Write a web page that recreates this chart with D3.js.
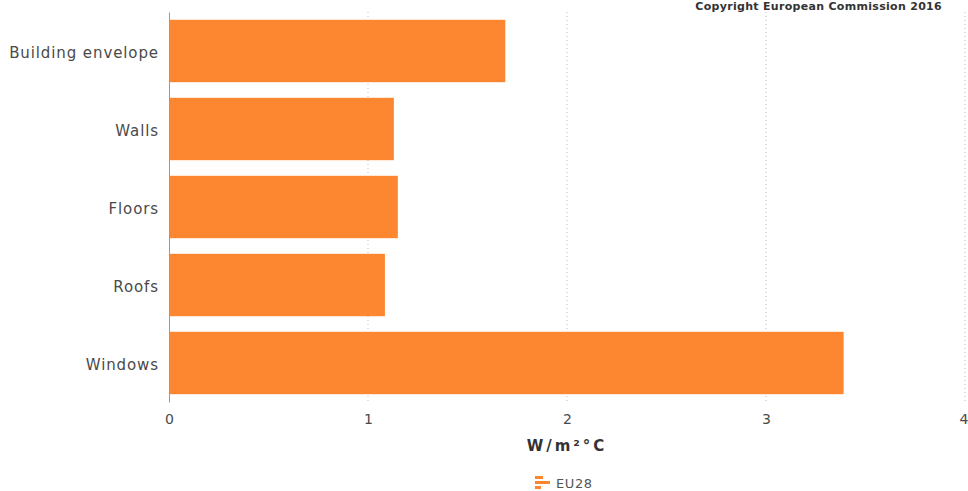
<!DOCTYPE html>
<html>
<head>
<meta charset="utf-8">
<script src="https://cdn.jsdelivr.net/npm/d3@7"></script>
<style>
  body { margin: 0; background: #fff; }
  svg { display: block; font-family: "DejaVu Sans", Verdana, sans-serif; }
</style>
</head>
<body>
<svg id="chart" width="968" height="491"></svg>
<script>
// Average U-values of building elements, EU28
const categories = ["Building envelope", "Walls", "Floors", "Roofs", "Windows"];
const values = [1.69, 1.13, 1.15, 1.085, 3.39];
const xTicks = [0, 1, 2, 3, 4];
const seriesName = "EU28";
const axisTitle = "W/m²°C";
const copyright = "Copyright European Commission 2016";

const barColor = "#fd8731";
const svg = d3.select("#chart");
const W = 968, H = 491;
const m = { left: 169, right: 3, top: 12, bottom: 89 };

const x = d3.scaleLinear().domain([0, 4]).range([m.left, W - m.right]);
const y = d3.scaleBand().domain(categories).range([m.top, H - m.bottom])
  .paddingInner(0.2).paddingOuter(0.1);

// dotted vertical gridlines
svg.append("g").selectAll("line").data(xTicks.slice(1)).join("line")
  .attr("x1", d => x(d)).attr("x2", d => x(d))
  .attr("y1", m.top).attr("y2", H - m.bottom)
  .attr("stroke", "#bbb").attr("stroke-width", 1)
  .attr("stroke-dasharray", "1,3");

// bars
svg.append("g").selectAll("rect").data(categories).join("rect")
  .attr("x", x(0))
  .attr("y", d => y(d))
  .attr("width", (d, i) => x(values[i]) - x(0))
  .attr("height", y.bandwidth())
  .attr("fill", barColor);

// category axis
const yAxis = svg.append("g").attr("transform", `translate(${m.left},0)`)
  .call(d3.axisLeft(y).tickSize(0).tickPadding(10));
yAxis.select(".domain").attr("stroke", "#999");
yAxis.selectAll("text").attr("font-size", 15).attr("fill", "#4a4a4a")
  .attr("letter-spacing", 0.9).attr("dy", "0.45em")
  .attr("font-family", "DejaVu Sans, Verdana, sans-serif");

// value axis labels
const xAxis = svg.append("g").attr("transform", `translate(0,${H - m.bottom})`)
  .call(d3.axisBottom(x).tickValues(xTicks).tickFormat(d3.format("d")).tickSize(0).tickPadding(12));
xAxis.select(".domain").remove();
xAxis.selectAll("text").attr("font-size", 14).attr("fill", "#4a4a4a")
  .attr("font-family", "DejaVu Sans, Verdana, sans-serif");
// keep the last tick label inside the right edge
xAxis.selectAll(".tick").filter(d => d === xTicks[xTicks.length - 1])
  .select("text").attr("text-anchor", "end").attr("dx", 3);

// axis title
svg.append("text")
  .attr("x", x(2)).attr("y", 451)
  .attr("text-anchor", "middle")
  .attr("font-size", 15).attr("font-weight", "bold").attr("fill", "#333")
  .attr("letter-spacing", 3)
  .text(axisTitle);

// copyright note
svg.append("text")
  .attr("x", 942).attr("y", 10)
  .attr("text-anchor", "end")
  .attr("font-size", 11).attr("font-weight", "bold").attr("fill", "#333")
  .attr("letter-spacing", 0.3)
  .text(copyright);

// legend
const lg = svg.append("g").attr("transform", "translate(535,476)");
[[0, 8], [5, 15], [10, 6]].forEach(([dy, w]) => {
  lg.append("rect").attr("x", 0).attr("y", dy).attr("width", w).attr("height", 3).attr("fill", barColor);
});
lg.append("text").attr("x", 21).attr("y", 12)
  .attr("font-size", 13).attr("fill", "#555")
  .attr("letter-spacing", 0.6)
  .text(seriesName);
</script>
</body>
</html>
